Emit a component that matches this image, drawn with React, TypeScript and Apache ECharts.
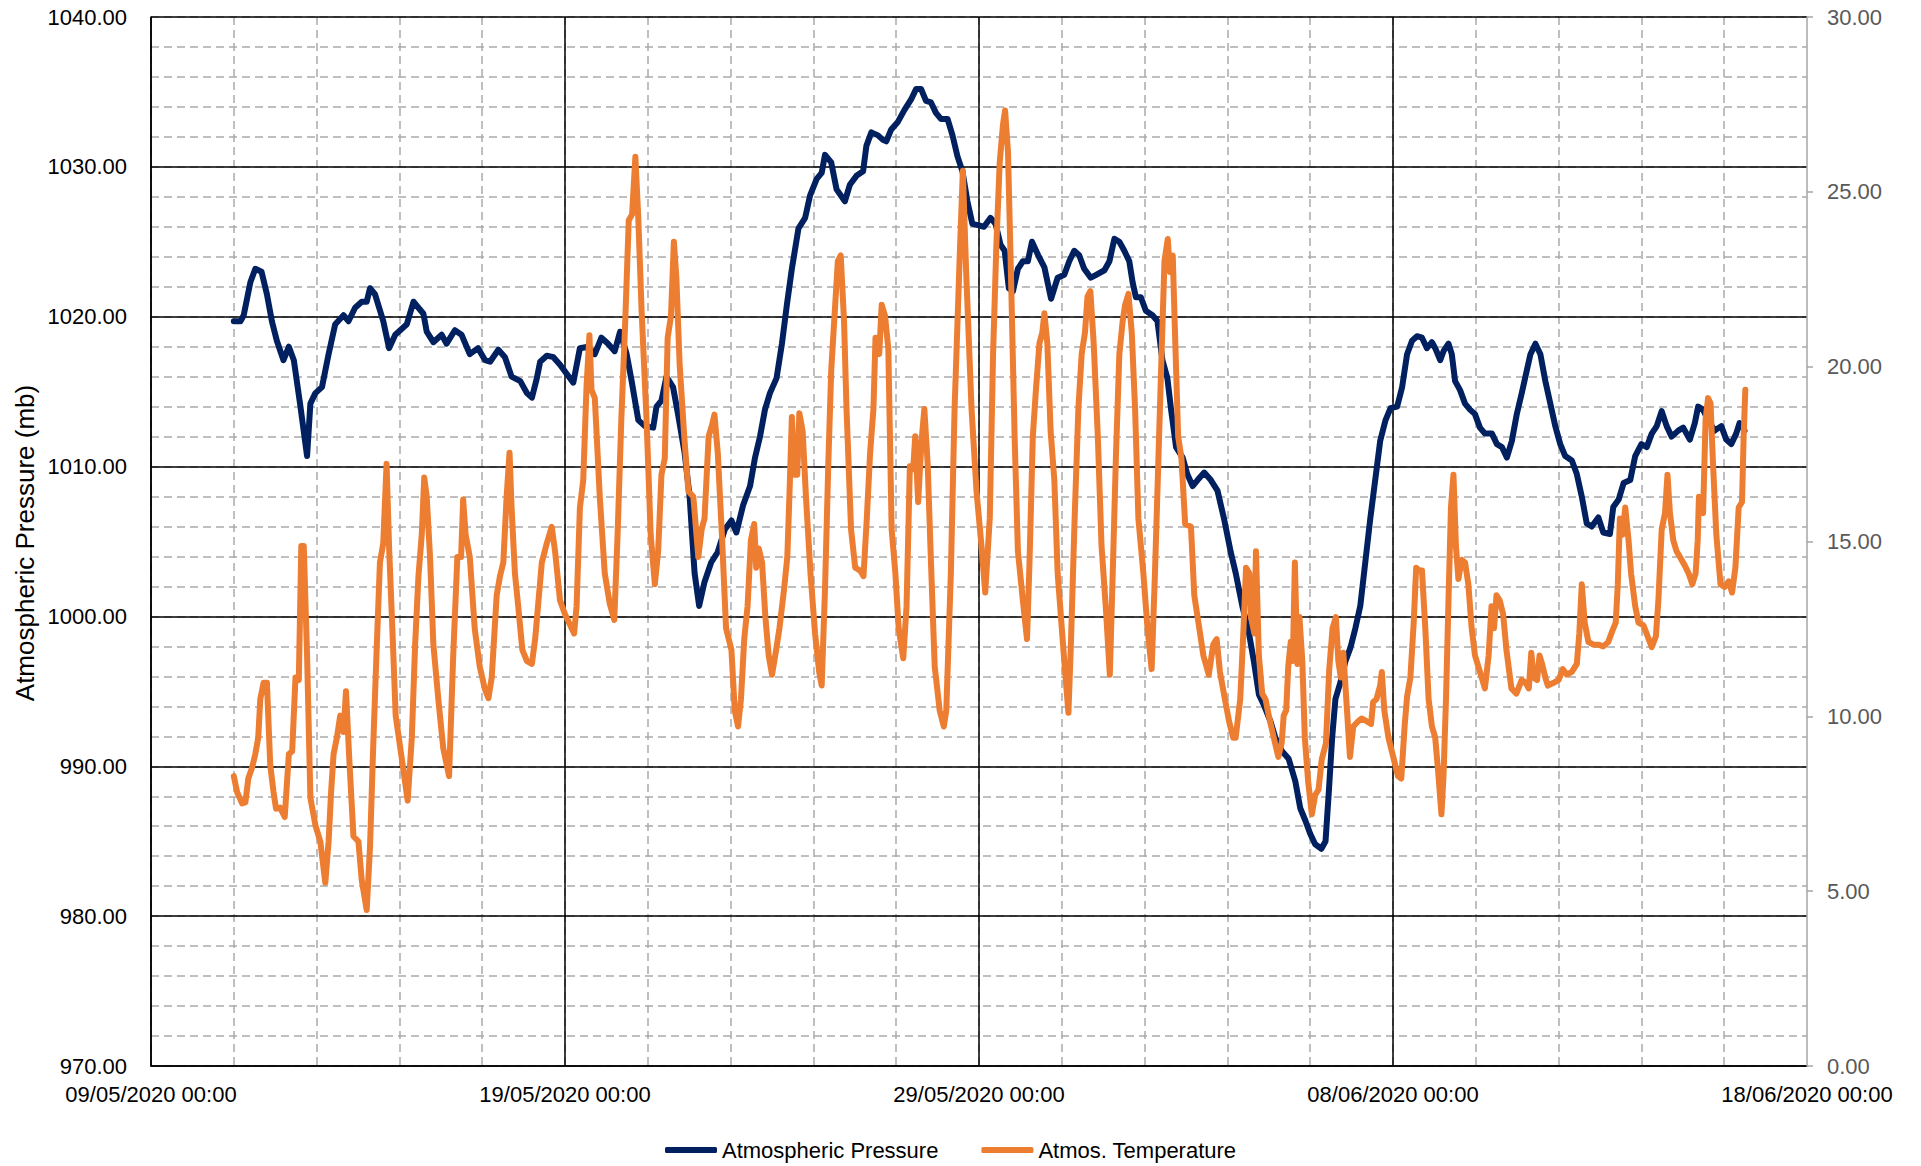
import React, { useEffect, useRef } from "react";
import * as echarts from "echarts";

// Times are given as day of May 2020 (32 = 1 June); the axis starts at 09/05/2020 00:00.
const axisStartDay = 9;
const xTickLabels = [
  "09/05/2020 00:00",
  "19/05/2020 00:00",
  "29/05/2020 00:00",
  "08/06/2020 00:00",
  "18/06/2020 00:00",
];

const pressureDay = [
  11.0, 11.16, 11.24, 11.4, 11.52, 11.67, 11.8, 11.92, 12.04, 12.2, 12.33, 12.45, 12.6, 12.77, 12.85, 12.97,
  13.13, 13.29, 13.45, 13.65, 13.77, 13.93, 14.09, 14.21, 14.29, 14.41, 14.61, 14.75, 14.9, 15.18, 15.34, 15.58,
  15.66, 15.82, 16.02, 16.14, 16.34, 16.5, 16.7, 16.9, 17.07, 17.19, 17.39, 17.55, 17.71, 17.92, 18.08, 18.2,
  18.32, 18.4, 18.56, 18.72, 18.88, 19.04, 19.2, 19.36, 19.56, 19.72, 19.88, 20.04, 20.2, 20.33, 20.49, 20.61,
  20.77, 20.93, 21.13, 21.21, 21.33, 21.45, 21.61, 21.73, 21.89, 22.01, 22.13, 22.24, 22.37, 22.53, 22.69, 22.86,
  23.02, 23.14, 23.3, 23.47, 23.59, 23.71, 23.83, 23.95, 24.11, 24.24, 24.36, 24.48, 24.64, 24.8, 24.92, 25.08,
  25.2, 25.28, 25.43, 25.56, 25.76, 25.88, 26.04, 26.2, 26.28, 26.4, 26.56, 26.68, 26.76, 26.88, 27.04, 27.2,
  27.36, 27.48, 27.6, 27.72, 27.84, 27.96, 28.08, 28.24, 28.36, 28.48, 28.6, 28.72, 28.84, 29.0, 29.12, 29.28,
  29.4, 29.52, 29.62, 29.72, 29.82, 29.94, 30.06, 30.18, 30.28, 30.43, 30.58, 30.74, 30.9, 31.06, 31.18, 31.3,
  31.42, 31.54, 31.7, 31.83, 32.03, 32.15, 32.27, 32.39, 32.51, 32.63, 32.71, 32.79, 32.91, 33.03, 33.19, 33.31,
  33.43, 33.55, 33.64, 33.76, 33.92, 34.03, 34.16, 34.28, 34.44, 34.6, 34.76, 34.92, 35.08, 35.2, 35.36, 35.52,
  35.64, 35.76, 35.88, 36.04, 36.16, 36.32, 36.48, 36.64, 36.76, 36.88, 37.0, 37.12, 37.27, 37.37, 37.45, 37.53,
  37.61, 37.73, 37.85, 37.97, 38.09, 38.21, 38.33, 38.45, 38.57, 38.69, 38.82, 38.94, 39.1, 39.22, 39.34, 39.46,
  39.58, 39.7, 39.82, 39.94, 40.02, 40.14, 40.22, 40.34, 40.42, 40.5, 40.62, 40.74, 40.86, 40.98, 41.1, 41.22,
  41.39, 41.51, 41.63, 41.75, 41.87, 41.99, 42.11, 42.32, 42.44, 42.56, 42.68, 42.8, 42.92, 43.04, 43.16, 43.32,
  43.44, 43.56, 43.68, 43.8, 43.96, 44.08, 44.24, 44.32, 44.45, 44.57, 44.73, 44.85, 45.0, 45.13, 45.25, 45.37,
  45.49, 45.61, 45.73, 45.89, 46.01, 46.17, 46.29, 46.37, 46.49, 46.61, 46.77, 46.93, 47.05, 47.17, 47.29, 47.37,
  47.49,
];
const pressureMb = [
  1019.7, 1019.7, 1020.1, 1022.3, 1023.2, 1023.0, 1021.5, 1019.7, 1018.4, 1017.1, 1018.0, 1017.1, 1014.2, 1010.7, 1014.2, 1014.9,
  1015.3, 1017.5, 1019.5, 1020.1, 1019.7, 1020.6, 1021.0, 1021.0, 1021.9, 1021.5, 1019.7, 1017.9, 1018.8, 1019.5, 1021.0, 1020.2,
  1019.0, 1018.3, 1018.8, 1018.2, 1019.1, 1018.8, 1017.5, 1017.9, 1017.1, 1017.0, 1017.8, 1017.3, 1016.0, 1015.7, 1014.9, 1014.6,
  1015.9, 1017.0, 1017.4, 1017.3, 1016.8, 1016.2, 1015.6, 1017.9, 1018.0, 1017.5, 1018.6, 1018.2, 1017.7, 1019.0, 1017.5, 1015.7,
  1013.1, 1012.7, 1012.6, 1014.0, 1014.4, 1016.0, 1015.3, 1013.5, 1010.9, 1008.0, 1002.9, 1000.7, 1002.3, 1003.6, 1004.3, 1005.8,
  1006.4, 1005.6, 1007.4, 1008.7, 1010.6, 1012.0, 1013.8, 1014.9, 1015.9, 1018.2, 1020.8, 1023.2, 1025.9, 1026.6, 1028.1, 1029.2,
  1029.6, 1030.8, 1030.3, 1028.5, 1027.7, 1028.8, 1029.4, 1029.7, 1031.4, 1032.3, 1032.1, 1031.8, 1031.7, 1032.5, 1033.0, 1033.8,
  1034.5, 1035.2, 1035.2, 1034.4, 1034.3, 1033.6, 1033.2, 1033.2, 1032.1, 1030.7, 1029.7, 1027.7, 1026.2, 1026.1, 1026.0, 1026.6,
  1026.2, 1024.8, 1024.4, 1021.9, 1021.7, 1023.2, 1023.7, 1023.7, 1025.0, 1024.1, 1023.3, 1021.2, 1022.6, 1022.8, 1023.7, 1024.4,
  1024.1, 1023.2, 1022.6, 1022.8, 1023.1, 1023.7, 1025.2, 1025.0, 1024.4, 1023.7, 1022.3, 1021.3, 1021.3, 1020.4, 1020.1, 1019.7,
  1017.1, 1015.9, 1013.8, 1011.3, 1010.6, 1009.5, 1008.7, 1009.1, 1009.6, 1009.1, 1008.4, 1006.5, 1004.3, 1002.9, 1000.7, 998.9,
  997.0, 994.8, 994.1, 993.0, 991.9, 991.0, 990.5, 989.0, 987.2, 986.4, 985.5, 984.8, 984.5, 985.0, 988.3, 991.9,
  994.5, 995.6, 997.0, 997.9, 999.2, 1000.7, 1003.6, 1006.5, 1009.1, 1011.7, 1013.1, 1013.9, 1014.0, 1015.3, 1017.5, 1018.4,
  1018.7, 1018.6, 1017.9, 1018.3, 1017.9, 1017.1, 1017.7, 1018.2, 1017.5, 1015.7, 1015.1, 1014.2, 1013.8, 1013.5, 1012.6, 1012.2,
  1012.2, 1011.5, 1011.3, 1010.6, 1011.7, 1013.5, 1014.9, 1017.5, 1018.2, 1017.5, 1015.7, 1014.2, 1012.7, 1011.5, 1010.7, 1010.4,
  1009.5, 1008.0, 1006.2, 1006.0, 1006.6, 1005.6, 1005.5, 1007.3, 1007.8, 1008.9, 1009.1, 1010.7, 1011.5, 1011.3, 1012.2, 1012.7,
  1013.7, 1012.7, 1012.0, 1012.4, 1012.6, 1011.8, 1012.9, 1014.0, 1013.8, 1013.1, 1012.4, 1012.7, 1011.8, 1011.5, 1012.2, 1012.9,
  1012.4,
];

const tempDay = [
  11.0, 11.08, 11.2, 11.28, 11.35, 11.44, 11.52, 11.59, 11.64, 11.72, 11.8, 11.88, 11.96, 12.02, 12.12, 12.23,
  12.33, 12.41, 12.49, 12.57, 12.63, 12.69, 12.77, 12.85, 12.97, 13.09, 13.21, 13.29, 13.35, 13.41, 13.49, 13.57,
  13.65, 13.71, 13.79, 13.89, 14.01, 14.09, 14.21, 14.29, 14.37, 14.45, 14.53, 14.61, 14.69, 14.75, 14.83, 14.91,
  15.06, 15.2, 15.3, 15.38, 15.46, 15.54, 15.6, 15.66, 15.74, 15.82, 15.94, 16.06, 16.2, 16.3, 16.4, 16.49,
  16.54, 16.6, 16.7, 16.82, 16.94, 17.06, 17.15, 17.23, 17.35, 17.43, 17.51, 17.59, 17.66, 17.71, 17.79, 17.87,
  17.97, 18.08, 18.2, 18.28, 18.36, 18.44, 18.56, 18.68, 18.76, 18.88, 19.0, 19.16, 19.22, 19.28, 19.36, 19.44,
  19.52, 19.59, 19.64, 19.72, 19.84, 19.96, 20.08, 20.19, 20.27, 20.36, 20.45, 20.54, 20.62, 20.7, 20.77, 20.85,
  20.97, 21.07, 21.17, 21.25, 21.33, 21.41, 21.48, 21.56, 21.63, 21.69, 21.77, 21.88, 21.98, 22.1, 22.22, 22.3,
  22.37, 22.47, 22.55, 22.61, 22.69, 22.79, 22.89, 23.02, 23.1, 23.18, 23.25, 23.33, 23.41, 23.49, 23.57, 23.62,
  23.68, 23.76, 23.84, 23.92, 24.0, 24.1, 24.18, 24.29, 24.37, 24.42, 24.48, 24.54, 24.61, 24.66, 24.74, 24.82,
  24.93, 25.04, 25.14, 25.2, 25.28, 25.36, 25.43, 25.51, 25.59, 25.66, 25.74, 25.8, 25.91, 26.01, 26.13, 26.21,
  26.29, 26.37, 26.45, 26.5, 26.59, 26.65, 26.73, 26.81, 26.89, 26.98, 27.06, 27.17, 27.25, 27.33, 27.41, 27.46,
  27.53, 27.61, 27.68, 27.76, 27.84, 27.93, 28.05, 28.15, 28.21, 28.32, 28.41, 28.53, 28.61, 28.69, 28.82, 28.94,
  29.06, 29.15, 29.26, 29.34, 29.42, 29.5, 29.58, 29.63, 29.7, 29.78, 29.86, 29.94, 30.06, 30.16, 30.22, 30.3,
  30.38, 30.46, 30.53, 30.58, 30.65, 30.73, 30.82, 30.9, 31.0, 31.06, 31.16, 31.22, 31.31, 31.4, 31.48, 31.56,
  31.62, 31.69, 31.77, 31.87, 31.96, 32.07, 32.16, 32.23, 32.31, 32.39, 32.47, 32.53, 32.61, 32.69, 32.77, 32.85,
  32.97, 33.07, 33.17, 33.25, 33.33, 33.41, 33.48, 33.56, 33.61, 33.68, 33.73, 33.81, 33.89, 33.98, 34.12, 34.2,
  34.3, 34.42, 34.55, 34.66, 34.74, 34.82, 34.94, 35.04, 35.14, 35.2, 35.31, 35.39, 35.45, 35.53, 35.57, 35.65,
  35.69, 35.76, 35.84, 35.92, 36.0, 36.12, 36.23, 36.31, 36.36, 36.42, 36.47, 36.53, 36.58, 36.63, 36.69, 36.74,
  36.81, 36.87, 36.95, 37.04, 37.12, 37.2, 37.28, 37.38, 37.46, 37.54, 37.62, 37.68, 37.74, 37.8, 37.88, 37.96,
  38.04, 38.16, 38.24, 38.36, 38.47, 38.52, 38.6, 38.69, 38.73, 38.79, 38.89, 39.02, 39.12, 39.2, 39.28, 39.34,
  39.42, 39.5, 39.56, 39.64, 39.7, 39.78, 39.86, 39.94, 40.02, 40.1, 40.17, 40.22, 40.28, 40.34, 40.4, 40.46,
  40.52, 40.58, 40.66, 40.74, 40.82, 40.9, 40.98, 41.1, 41.22, 41.31, 41.38, 41.44, 41.5, 41.58, 41.66, 41.74,
  41.86, 41.98, 42.11, 42.2, 42.28, 42.34, 42.4, 42.48, 42.54, 42.6, 42.68, 42.74, 42.88, 43.0, 43.1, 43.2,
  43.32, 43.44, 43.5, 43.56, 43.63, 43.72, 43.84, 43.96, 44.08, 44.2, 44.3, 44.38, 44.43, 44.48, 44.54, 44.61,
  44.69, 44.75, 44.85, 44.93, 45.05, 45.15, 45.25, 45.35, 45.41, 45.49, 45.57, 45.63, 45.69, 45.77, 45.85, 45.93,
  46.04, 46.14, 46.23, 46.31, 46.36, 46.39, 46.45, 46.49, 46.55, 46.61, 46.67, 46.73, 46.81, 46.91, 47.01, 47.11,
  47.19, 47.27, 47.35, 47.43, 47.47, 47.51,
];
const tempC = [
  8.29, 7.83, 7.51, 7.54, 8.22, 8.53, 8.92, 9.39, 10.49, 10.96, 10.96, 8.61, 7.83, 7.36, 7.39, 7.12,
  8.92, 9.0, 11.11, 11.04, 14.87, 14.87, 11.74, 7.67, 6.89, 6.42, 5.24, 6.42, 7.83, 8.92, 9.39, 10.02,
  9.55, 10.72, 8.77, 6.57, 6.42, 5.32, 4.46, 6.26, 9.23, 11.9, 14.4, 14.95, 17.22, 14.87, 12.5, 10.02,
  8.77, 7.59, 9.39, 12.06, 14.01, 15.19, 16.83, 16.28, 14.56, 12.06, 10.49, 9.08, 8.29, 11.74, 14.56, 14.56,
  16.2, 15.19, 14.56, 12.5, 11.43, 10.8, 10.52, 11.11, 13.46, 14.01, 14.4, 16.28, 17.54, 15.97, 14.09, 13.15,
  11.9, 11.58, 11.5, 12.22, 13.31, 14.4, 14.95, 15.42, 14.72, 13.31, 12.92, 12.52, 12.37, 13.15, 15.97, 16.75,
  19.42, 20.9, 19.34, 19.1, 16.28, 14.09, 13.23, 12.76, 15.19, 18.48, 21.14, 24.19, 24.35, 26.0, 24.27, 21.61,
  18.48, 15.19, 13.78, 14.72, 16.91, 17.38, 20.83, 21.45, 23.57, 22.55, 20.04, 18.01, 16.44, 16.28, 14.56, 15.34,
  15.66, 18.01, 18.32, 18.63, 17.54, 15.19, 12.52, 11.9, 10.17, 9.71, 10.49, 12.22, 13.15, 15.03, 15.5, 14.25,
  14.8, 14.4, 12.84, 11.74, 11.19, 11.9, 12.52, 13.62, 14.56, 16.28, 18.56, 16.91, 16.91, 18.67, 18.16, 16.28,
  14.09, 12.37, 11.27, 10.88, 13.62, 17.22, 19.89, 21.45, 23.02, 23.18, 21.3, 18.79, 15.34, 14.25, 14.17, 14.01,
  15.66, 17.54, 18.79, 20.83, 20.36, 21.77, 21.45, 20.51, 15.34, 14.09, 12.52, 11.66, 13.15, 17.15, 17.07, 18.01,
  16.13, 17.85, 18.79, 17.22, 14.4, 11.43, 10.17, 9.71, 10.17, 14.09, 18.79, 23.02, 25.6, 22.71, 18.79, 16.44,
  14.87, 13.54, 15.66, 20.36, 23.49, 25.84, 26.93, 27.33, 26.15, 22.24, 18.01, 14.72, 13.31, 12.21, 14.4, 18.01,
  19.42, 20.67, 20.98, 21.53, 20.67, 18.16, 16.75, 14.09, 12.52, 11.58, 10.1, 12.06, 15.66, 18.79, 20.36, 20.98,
  22.0, 22.16, 20.67, 18.01, 14.87, 12.99, 11.19, 14.09, 17.54, 20.36, 21.3, 21.77, 22.08, 20.98, 18.79, 15.66,
  14.09, 12.52, 11.35, 14.09, 17.22, 20.36, 23.02, 23.65, 22.71, 23.18, 21.14, 18.01, 17.38, 15.5, 15.42, 13.46,
  12.68, 11.74, 11.19, 12.06, 12.21, 11.27, 10.49, 9.86, 9.39, 9.39, 10.49, 12.52, 14.25, 14.09, 12.84, 12.37,
  14.72, 11.74, 10.65, 10.49, 10.02, 9.39, 8.84, 9.23, 10.02, 10.17, 11.43, 12.13, 11.58, 14.4, 11.5, 12.84,
  11.58, 9.39, 8.14, 7.2, 7.75, 7.9, 8.77, 9.23, 11.35, 12.52, 12.84, 11.58, 11.11, 11.82, 10.33, 8.84,
  9.71, 9.86, 9.94, 9.86, 9.78, 10.41, 10.49, 10.88, 11.27, 10.17, 9.39, 8.77, 8.29, 8.22, 9.71, 10.57,
  11.11, 12.68, 14.25, 14.17, 14.17, 12.52, 10.49, 9.71, 9.39, 8.29, 7.2, 8.29, 10.49, 13.31, 15.97, 16.91,
  14.87, 13.93, 14.48, 14.4, 13.78, 12.52, 11.74, 11.27, 10.8, 11.74, 13.15, 12.52, 13.46, 13.31, 12.92, 11.9,
  10.8, 10.65, 11.04, 10.96, 10.8, 11.82, 11.11, 11.04, 11.74, 11.5, 11.11, 10.88, 10.96, 11.04, 11.35, 11.19,
  11.27, 11.5, 12.37, 13.78, 12.68, 12.13, 12.05, 12.05, 12.0, 12.13, 12.45, 12.68, 13.78, 15.66, 15.19, 15.97,
  15.03, 14.09, 13.15, 12.68, 12.6, 12.29, 11.98, 12.29, 13.31, 15.34, 15.81, 16.91, 15.81, 15.03, 14.72, 14.56,
  14.33, 14.09, 13.78, 14.09, 15.03, 16.28, 16.13, 15.81, 18.48, 19.1, 18.95, 17.22, 15.19, 13.78, 13.7, 13.86,
  13.54, 14.25, 15.97, 16.13, 18.01, 19.34,
];

const FONT = "'Liberation Sans', Arial, sans-serif";
const NAVY = "#002060";
const ORANGE = "#ED7D31";
const GRID_DASH = "#ABABAB";

export default function App() {
  const ref = useRef<HTMLDivElement>(null);

  useEffect(() => {
    if (!ref.current) return;
    const chart = echarts.init(ref.current, undefined, { renderer: "svg" });

    const pressureData = pressureDay.map((d, i) => [d - axisStartDay, pressureMb[i]]);
    const tempData = tempDay.map((d, i) => [d - axisStartDay, tempC[i]]);

    const minorSplit = {
      show: true,
      showMaxLine: false,
      lineStyle: { color: GRID_DASH, width: 1.5, type: [8, 5] as any },
    };

    chart.setOption({
      animation: false,
      backgroundColor: "#ffffff",
      textStyle: { fontFamily: FONT },
      grid: { left: 151, top: 17, right: 114, bottom: 100, containLabel: false, show: false },
      xAxis: [
        {
          type: "value",
          min: 0,
          max: 40,
          interval: 10,
          z: 1,
          axisLine: { show: true, onZero: false, lineStyle: { color: "#000", width: 1.5 } },
          axisTick: { show: false },
          splitLine: { show: true, showMaxLine: false, lineStyle: { color: "#000", width: 1.5 } },
          axisLabel: {
            show: true,
            margin: 17,
            fontSize: 22,
            color: "#000",
            fontFamily: FONT,
            showMinLabel: true,
            showMaxLabel: true,
            formatter: (v: number) => xTickLabels[Math.round(v / 10)] ?? "",
          },
        },
        {
          type: "value",
          min: 0,
          max: 40,
          interval: 2,
          z: 0,
          axisLine: { show: false },
          axisTick: { show: false },
          axisLabel: { show: false },
          splitLine: minorSplit,
        },
      ],
      yAxis: [
        {
          type: "value",
          position: "left",
          min: 970,
          max: 1040,
          interval: 10,
          z: 1,
          axisLine: { show: true, onZero: false, lineStyle: { color: "#000", width: 1.5 } },
          axisTick: { show: false },
          splitLine: { show: true, lineStyle: { color: "#000", width: 1.5 } },
          axisLabel: {
            margin: 24,
            fontSize: 22,
            color: "#000",
            fontFamily: FONT,
            formatter: (v: number) => v.toFixed(2),
          },
        },
        {
          type: "value",
          position: "left",
          min: 970,
          max: 1040,
          interval: 2,
          z: 0,
          axisLine: { show: false },
          axisTick: { show: false },
          axisLabel: { show: false },
          splitLine: { ...minorSplit, showMaxLine: true },
        },
        {
          type: "value",
          position: "right",
          min: 0,
          max: 30,
          interval: 5,
          z: 3,
          axisLine: { show: true, onZero: false, lineStyle: { color: "#A6A6A6", width: 1.5 } },
          axisTick: { show: true, inside: false, length: 6, lineStyle: { color: "#A6A6A6", width: 1.5 } },
          splitLine: { show: false },
          axisLabel: {
            margin: 20,
            fontSize: 22,
            color: "#595959",
            fontFamily: FONT,
            formatter: (v: number) => v.toFixed(2),
          },
        },
      ],
      legend: {
        top: 1139,
        left: 665,
        padding: 0,
        itemGap: 43,
        itemWidth: 52,
        itemHeight: 6,
        icon: "roundRect",
        textStyle: { fontSize: 22, color: "#000", fontFamily: FONT },
        data: ["Atmospheric Pressure", "Atmos. Temperature"],
      },
      graphic: [
        {
          type: "text",
          x: 25,
          y: 543,
          rotation: Math.PI / 2,
          style: {
            text: "Atmospheric Pressure (mb)",
            fontSize: 26,
            fontFamily: FONT,
            fill: "#000",
            textAlign: "center",
            textVerticalAlign: "middle",
          },
        },
      ],
      series: [
        {
          name: "Atmospheric Pressure",
          type: "line",
          xAxisIndex: 0,
          yAxisIndex: 0,
          data: pressureData,
          showSymbol: false,
          symbol: "none",
          z: 3,
          color: NAVY,
          lineStyle: { color: NAVY, width: 6, cap: "round", join: "round" },
        },
        {
          name: "Atmos. Temperature",
          type: "line",
          xAxisIndex: 0,
          yAxisIndex: 2,
          data: tempData,
          showSymbol: false,
          symbol: "none",
          z: 4,
          color: ORANGE,
          lineStyle: { color: ORANGE, width: 6, cap: "round", join: "round" },
        },
      ],
    });

    return () => chart.dispose();
  }, []);

  return (
    <div
      ref={ref}
      style={{ position: "fixed", left: 0, top: 0, width: 1921, height: 1166, background: "#fff" }}
    />
  );
}
